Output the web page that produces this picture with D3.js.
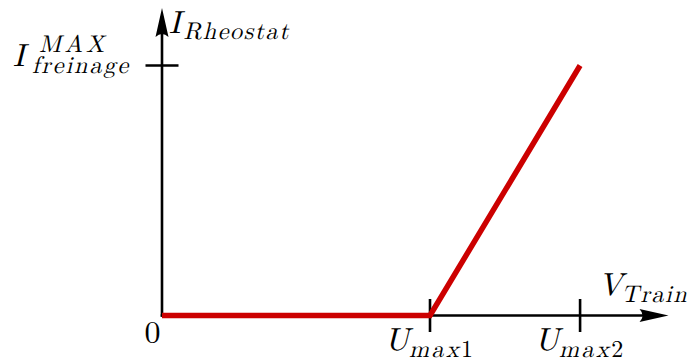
<!DOCTYPE html>
<html>
<head>
<meta charset="utf-8">
<script src="https://cdn.jsdelivr.net/npm/d3@7"></script>
<style>
body { margin: 0; background: #fff; }
svg { display: block; }
</style>
</head>
<body>
<svg width="694" height="361"></svg>
<script>
const width = 694;
const height = 361;

// normalised units : U_max1 = 1 on x, I_freinage^MAX = 1 on y
const curveU = [0, 1, 1.56];
const curveI = [0, 0, 1];
const xTickValues = [1, 1.56];
const xTickLabels = [['U', 'max', '1'], ['U', 'max', '2']];
const yTickValues = [1];
const yTickLabels = [['I', 'MAX', 'freinage']];
const xAxisLabel = ['V', 'Train'];
const yAxisLabel = ['I', 'Rheostat'];
const xEnd = 1.89;
const yEnd = 1.23;

const font = 'Latin Modern Math, Liberation Serif, serif';
const mainSize = 32;
const subSize = 24;

const x = d3.scaleLinear().domain([0, 1]).range([162, 430]);
const y = d3.scaleLinear().domain([0, 1]).range([315.5, 65.5]);

const svg = d3.select('svg');

// arrow head pointing right, tip at 0,0
const arrowPath = 'M0,0 L-29,-6.5 Q-23,0 -29,6.5 Z';

// axes
svg.append('line')
    .attr('x1', x(0) - 1.3).attr('y1', y(0))
    .attr('x2', x(xEnd) - 22).attr('y2', y(0))
    .attr('stroke', '#000').attr('stroke-width', 2.6);

svg.append('path')
    .attr('d', arrowPath)
    .attr('transform', `translate(${x(xEnd)}, ${y(0)})`);

svg.append('line')
    .attr('x1', x(0)).attr('y1', y(0) + 1.3)
    .attr('x2', x(0)).attr('y2', y(yEnd) + 22)
    .attr('stroke', '#000').attr('stroke-width', 2.6);

svg.append('path')
    .attr('d', arrowPath)
    .attr('transform', `translate(${x(0)}, ${y(yEnd)}) rotate(-90)`);

// ticks
svg.selectAll('.xtick')
    .data(xTickValues)
    .join('line')
    .attr('class', 'xtick')
    .attr('x1', d => x(d)).attr('x2', d => x(d))
    .attr('y1', y(0) - 16.5).attr('y2', y(0) + 16.5)
    .attr('stroke', '#000').attr('stroke-width', 2.6);

svg.selectAll('.ytick')
    .data(yTickValues)
    .join('line')
    .attr('class', 'ytick')
    .attr('x1', x(0) - 16.5).attr('x2', x(0) + 16.5)
    .attr('y1', d => y(d)).attr('y2', d => y(d))
    .attr('stroke', '#000').attr('stroke-width', 2.6);

// curve
const line = d3.line()
    .x(d => x(d[0]))
    .y(d => y(d[1]));

svg.append('path')
    .datum(d3.zip(curveU, curveI))
    .attr('d', line)
    .attr('fill', 'none')
    .attr('stroke', '#cc0000')
    .attr('stroke-width', 5.5)
    .attr('stroke-linejoin', 'miter')
    .attr('stroke-linecap', 'butt');

// labels
function label(sel) {
    return sel.append('text')
        .attr('font-family', font)
        .attr('font-style', 'italic')
        .attr('fill', '#000');
}

xTickValues.forEach((v, i) => {
    const [main, sub, digit] = xTickLabels[i];
    const t = label(svg)
        .attr('x', x(v) - 1)
        .attr('y', y(0) + 34.5)
        .attr('text-anchor', 'middle');
    t.append('tspan').attr('font-size', mainSize).text(main);
    t.append('tspan').attr('font-size', subSize).attr('dy', 7)
        .attr('letter-spacing', 2.5).text(sub);
    t.append('tspan').attr('font-size', subSize).attr('font-style', 'normal').text(digit);
});

label(svg)
    .attr('x', x(0) - 1.5)
    .attr('y', y(0) + 27)
    .attr('text-anchor', 'end')
    .attr('font-size', mainSize)
    .attr('font-style', 'normal')
    .text('0');

yTickValues.forEach((v, i) => {
    const [main, sup, sub] = yTickLabels[i];
    const t = label(svg)
        .attr('transform', `translate(${x(0)}, ${y(v)})`);
    t.append('tspan').attr('x', -149).attr('y', 0.5)
        .attr('font-size', mainSize).text(main);
    t.append('tspan').attr('x', -123).attr('y', -14)
        .attr('font-size', subSize).attr('letter-spacing', 3.5).text(sup);
    t.append('tspan').attr('x', -130).attr('y', 7)
        .attr('font-size', subSize).attr('letter-spacing', 2).text(sub);
});

const yl = label(svg)
    .attr('x', x(0) + 7)
    .attr('y', y(yEnd) + 25);
yl.append('tspan').attr('font-size', mainSize).text(yAxisLabel[0]);
yl.append('tspan').attr('font-size', subSize).attr('dy', 6).attr('dx', 3)
    .attr('letter-spacing', 1.6).text(yAxisLabel[1]);

const xl = label(svg)
    .attr('x', x(xEnd) - 70)
    .attr('y', y(0) - 20.5);
xl.append('tspan').attr('font-size', mainSize).text(xAxisLabel[0]);
xl.append('tspan').attr('font-size', subSize).attr('dy', 7).attr('dx', -1)
    .attr('letter-spacing', 1.6).text(xAxisLabel[1]);
</script>
</body>
</html>
